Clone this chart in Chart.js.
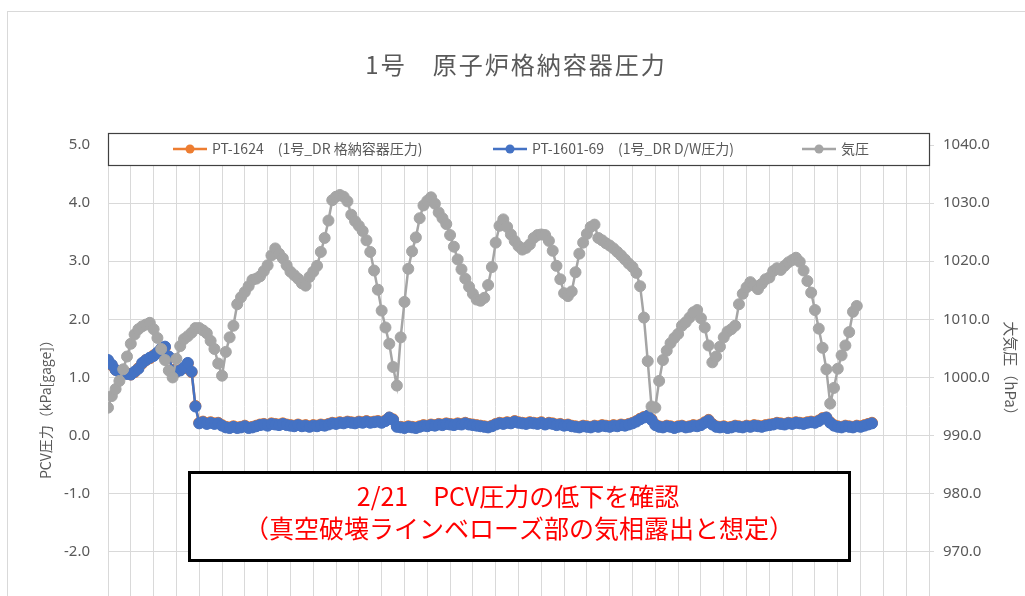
<!DOCTYPE html>
<html lang="ja">
<head>
<meta charset="utf-8">
<title>1号 原子炉格納容器圧力</title>
<script src="https://cdn.jsdelivr.net/npm/chart.js@4.4.1/dist/chart.umd.min.js"></script>
<style>
  html, body { margin: 0; padding: 0; background: #fff; overflow: hidden; }
  #wrap { width: 1025px; height: 700px; }
</style>
</head>
<body>
<div id="wrap"><canvas id="pcvChart" width="1025" height="700"></canvas></div>
<script>
// one reading every 4 hours, x axis in days
const days = Array.from({ length: 202 }, (_, i) => i / 6);

// PT-1601-69 (D/W pressure, kPa gage)
const pt160169 = [
  1.30, 1.22, 1.13, 1.09, 1.08, 1.06, 1.05, 1.10, 1.15, 1.25,
  1.30, 1.34, 1.37, 1.43, 1.50, 1.53, 1.36, 1.12, 1.10, 1.12,
  1.17, 1.25, 1.10, 0.50, 0.21, 0.23, 0.20, 0.22, 0.20, 0.21,
  0.17, 0.14, 0.13, 0.15, 0.13, 0.14, 0.16, 0.13, 0.14, 0.16,
  0.18, 0.19, 0.17, 0.20, 0.19, 0.18, 0.20, 0.18, 0.17, 0.16,
  0.18, 0.16, 0.17, 0.15, 0.17, 0.16, 0.18, 0.17, 0.19, 0.21,
  0.20, 0.22, 0.21, 0.23, 0.22, 0.21, 0.23, 0.22, 0.24, 0.22,
  0.23, 0.24, 0.22, 0.25, 0.31, 0.27, 0.15, 0.14, 0.13, 0.15,
  0.14, 0.13, 0.15, 0.17, 0.16, 0.18, 0.17, 0.19, 0.18, 0.20,
  0.19, 0.18, 0.20, 0.19, 0.21, 0.19, 0.18, 0.17, 0.16, 0.15,
  0.14, 0.16, 0.19, 0.21, 0.20, 0.22, 0.21, 0.24, 0.22, 0.21,
  0.20, 0.22, 0.21, 0.20, 0.22, 0.19, 0.21, 0.20, 0.18, 0.19,
  0.17, 0.18, 0.16, 0.15, 0.14, 0.16, 0.15, 0.14, 0.16, 0.15,
  0.17, 0.16, 0.15, 0.17, 0.16, 0.18, 0.17, 0.19, 0.21, 0.24,
  0.28, 0.31, 0.34, 0.27, 0.18, 0.15, 0.14, 0.16, 0.15, 0.13,
  0.15, 0.16, 0.14, 0.15, 0.17, 0.16, 0.18, 0.22, 0.26, 0.19,
  0.15, 0.14, 0.15, 0.13, 0.14, 0.16, 0.15, 0.14, 0.16, 0.15,
  0.17, 0.16, 0.15, 0.17, 0.18, 0.19, 0.21, 0.20, 0.19, 0.21,
  0.20, 0.22, 0.21, 0.20, 0.22, 0.23, 0.22, 0.25, 0.29, 0.31,
  0.22, 0.17, 0.15, 0.14, 0.16, 0.15, 0.14, 0.16, 0.15, 0.17,
  0.19, 0.21
];

// PT-1624 (格納容器圧力, kPa gage) - almost hidden under PT-1601-69
const pt1624 = [
  1.29, 1.21, 1.13, 1.10, 1.08, 1.07, 1.05, 1.09, 1.16, 1.24,
  1.30, 1.33, 1.38, 1.42, 1.49, 1.52, 1.35, 1.13, 1.10, 1.13,
  1.16, 1.24, 1.09, 0.51, 0.22, 0.24, 0.21, 0.23, 0.21, 0.22,
  0.18, 0.15, 0.14, 0.16, 0.14, 0.15, 0.17, 0.14, 0.15, 0.17,
  0.19, 0.20, 0.18, 0.21, 0.20, 0.19, 0.21, 0.19, 0.18, 0.17,
  0.19, 0.17, 0.18, 0.16, 0.18, 0.17, 0.19, 0.18, 0.20, 0.22,
  0.21, 0.23, 0.22, 0.24, 0.23, 0.22, 0.24, 0.23, 0.25, 0.23,
  0.24, 0.25, 0.23, 0.26, 0.31, 0.28, 0.16, 0.15, 0.14, 0.16,
  0.15, 0.14, 0.16, 0.18, 0.17, 0.19, 0.18, 0.20, 0.19, 0.21,
  0.20, 0.19, 0.21, 0.20, 0.22, 0.20, 0.19, 0.18, 0.17, 0.16,
  0.15, 0.17, 0.20, 0.22, 0.21, 0.23, 0.22, 0.25, 0.23, 0.22,
  0.21, 0.23, 0.22, 0.21, 0.23, 0.20, 0.22, 0.21, 0.19, 0.20,
  0.18, 0.19, 0.17, 0.16, 0.15, 0.17, 0.16, 0.15, 0.17, 0.16,
  0.18, 0.17, 0.16, 0.18, 0.17, 0.19, 0.18, 0.20, 0.22, 0.25,
  0.29, 0.32, 0.34, 0.28, 0.19, 0.16, 0.15, 0.17, 0.16, 0.14,
  0.16, 0.17, 0.15, 0.16, 0.18, 0.17, 0.19, 0.23, 0.27, 0.20,
  0.16, 0.15, 0.16, 0.14, 0.15, 0.17, 0.16, 0.15, 0.17, 0.16,
  0.18, 0.17, 0.16, 0.18, 0.19, 0.20, 0.22, 0.21, 0.20, 0.22,
  0.21, 0.23, 0.22, 0.21, 0.23, 0.24, 0.23, 0.26, 0.30, 0.31,
  0.23, 0.18, 0.16, 0.15, 0.17, 0.16, 0.15, 0.17, 0.16, 0.18,
  0.20, 0.22
];

// 気圧 (hPa)
const atm = [
  994.8, 996.8, 998.0, 999.4, 1001.4, 1003.6, 1005.8, 1007.4, 1008.3, 1008.8,
  1009.1, 1009.4, 1008.3, 1006.8, 1004.9, 1003.0, 1001.2, 1000.0, 1003.2, 1005.4,
  1006.6, 1007.1, 1007.7, 1008.5, 1008.5, 1008.1, 1007.6, 1006.3, 1004.9, 1002.4,
  1000.3, 1004.4, 1006.9, 1008.9, 1012.6, 1013.8, 1014.7, 1015.7, 1016.8, 1017.0,
  1017.4, 1018.3, 1019.3, 1021.0, 1022.2, 1021.3, 1020.5, 1019.3, 1018.2, 1017.6,
  1017.0, 1016.2, 1015.8, 1017.3, 1018.2, 1019.2, 1021.6, 1024.0, 1027.0, 1030.5,
  1031.1, 1031.4, 1031.1, 1030.3, 1028.0, 1026.9, 1026.1, 1025.2, 1023.6, 1021.6,
  1018.4, 1015.1, 1011.5, 1008.6, 1005.8, 1001.8, 998.6, 1006.9, 1013.0, 1018.7,
  1021.7, 1024.1, 1027.4, 1029.6, 1030.4, 1031.0, 1029.9, 1028.4, 1027.4, 1026.4,
  1024.5, 1022.5, 1020.3, 1018.6, 1017.0, 1015.6, 1014.4, 1013.4, 1013.2, 1013.7,
  1015.9, 1019.0, 1023.2, 1026.1, 1027.2, 1025.9, 1024.6, 1023.5, 1022.6, 1022.0,
  1022.3, 1022.9, 1024.0, 1024.5, 1024.6, 1024.5, 1023.5, 1021.8, 1019.2, 1016.9,
  1014.5, 1014.0, 1014.8, 1018.1, 1021.3, 1023.2, 1024.7, 1025.9, 1026.3, 1024.0,
  1023.6, 1023.1, 1022.7, 1022.2, 1021.6, 1021.0, 1020.3, 1019.6, 1019.0, 1018.0,
  1015.7, 1010.3, 1002.8, 995.0, 994.8, 999.4, 1003.0, 1004.6, 1005.9, 1006.8,
  1007.5, 1008.9, 1009.5, 1010.3, 1011.2, 1011.6, 1010.2, 1008.6, 1005.5, 1002.6,
  1003.6, 1005.3, 1006.9, 1007.9, 1008.3, 1008.9, 1012.6, 1014.4, 1015.5, 1016.4,
  1015.8, 1015.2, 1016.1, 1016.9, 1017.2, 1018.3, 1018.8, 1018.5, 1019.2, 1019.8,
  1020.2, 1020.6, 1019.9, 1018.4, 1016.6, 1014.6, 1011.6, 1008.4, 1005.1, 1001.4,
  995.5, 998.2, 1001.5, 1003.8, 1005.5, 1007.8, 1011.3, 1012.3
];

const seriesNames = ["PT-1624　(1号_DR 格納容器圧力)", "PT-1601-69　(1号_DR D/W圧力)", "気圧"];
const seriesColors = ["#ed7d31", "#4472c4", "#a5a5a5"];
const noteLines = ["2/21　PCV圧力の低下を確認", "（真空破壊ラインベローズ部の気相露出と想定）"];

const textGray = "#595959";
const gridGray = "#d9d9d9";
const jpFont = '"Noto Sans CJK JP", "Noto Sans", sans-serif';

// title, legend box, axis titles and the red note are drawn by hand
const decor = {
  id: "decor",
  beforeDraw(chart) {
    const c = chart.ctx;
    c.save();
    c.fillStyle = "#fff";
    c.fillRect(0, 0, chart.width, chart.height);
    c.strokeStyle = gridGray;
    c.lineWidth = 1;
    c.strokeRect(7.5, 11.5, chart.width + 10, chart.height + 10);
    c.restore();
  },
  afterDraw(chart) {
    const c = chart.ctx;
    const area = chart.chartArea;
    c.save();

    // title
    c.fillStyle = textGray;
    c.font = "24px " + jpFont;
    c.letterSpacing = "2px";
    c.textAlign = "center";
    c.textBaseline = "middle";
    c.fillText("1号　原子炉格納容器圧力", 516, 65);
    c.letterSpacing = "0px";

    // legend box
    c.fillStyle = "#fff";
    c.fillRect(area.left, 133, area.right - area.left, 32);
    c.strokeStyle = "#404040";
    c.lineWidth = 1.2;
    c.strokeRect(area.left + 0.5, 133.5, area.right - area.left, 32);

    const legendX = [173, 493, 802];
    c.font = "14px " + jpFont;
    c.textAlign = "left";
    chart.data.datasets.forEach((ds, i) => {
      const x = legendX[i];
      const y = 149;
      c.strokeStyle = ds.borderColor;
      c.lineWidth = 2.5;
      c.beginPath();
      c.moveTo(x, y);
      c.lineTo(x + 34, y);
      c.stroke();
      c.fillStyle = ds.borderColor;
      c.beginPath();
      c.arc(x + 17, y, 4.5, 0, Math.PI * 2);
      c.fill();
      c.fillStyle = textGray;
      c.fillText(ds.label, x + 39, y);
    });

    // axis titles
    c.fillStyle = textGray;
    c.textAlign = "center";
    c.font = "14px " + jpFont;
    c.save();
    c.translate(46, 406);
    c.rotate(-Math.PI / 2);
    c.fillText("PCV圧力（kPa[gage]）", 0, 0);
    c.restore();
    c.font = "15px " + jpFont;
    c.save();
    c.translate(1011, 372);
    c.rotate(Math.PI / 2);
    c.fillText("大気圧（hPa）", 0, 0);
    c.restore();

    // note box
    c.fillStyle = "#fff";
    c.fillRect(189, 472, 660, 88);
    c.strokeStyle = "#000";
    c.lineWidth = 3;
    c.strokeRect(189.5, 472.5, 660, 88);
    c.fillStyle = "#ff0000";
    c.font = "25px " + jpFont;
    c.fillText(noteLines[0], 518, 496);
    c.fillText(noteLines[1], 519, 528);

    c.restore();
  }
};

const ctx = document.getElementById("pcvChart").getContext("2d");

function lineSet(i, values, axis, order) {
  return {
    label: seriesNames[i],
    data: values,
    yAxisID: axis,
    order: order,
    borderColor: seriesColors[i],
    backgroundColor: seriesColors[i],
    borderWidth: 2.5,
    pointRadius: 5.5,
    pointBorderWidth: 1,
    pointHoverRadius: 5.5,
    tension: 0,
  };
}

new Chart(ctx, {
  type: "line",
  data: {
    labels: days,
    datasets: [
      lineSet(0, pt1624, "y", 3),
      lineSet(1, pt160169, "y", 2),
      lineSet(2, atm, "y2", 1),
    ],
  },
  options: {
    responsive: false,
    animation: false,
    devicePixelRatio: 1,
    layout: { padding: { top: 145, bottom: 32, left: 0, right: 0 } },
    plugins: {
      legend: { display: false },
      title: { display: false },
      tooltip: { enabled: false },
    },
    scales: {
      x: {
        type: "linear",
        min: 0,
        max: 36,
        ticks: { display: false, stepSize: 1 },
        grid: { color: gridGray, drawTicks: false },
        border: { display: false },
        afterFit: (s) => { s.height = 0; },
      },
      y: {
        position: "left",
        min: -4,
        max: 5,
        ticks: {
          stepSize: 1,
          padding: 18,
          color: textGray,
          font: { family: '"Noto Sans", sans-serif', size: 15 },
          callback: (v) => v.toFixed(1),
        },
        grid: { color: gridGray, drawTicks: false },
        border: { display: false },
        afterFit: (s) => { s.width = 108; },
      },
      y2: {
        position: "right",
        min: 950,
        max: 1040,
        ticks: {
          stepSize: 10,
          padding: 9,
          color: textGray,
          font: { family: '"Noto Sans", sans-serif', size: 15 },
          callback: (v) => v.toFixed(1),
        },
        grid: { drawOnChartArea: false, color: gridGray, tickLength: 5 },
        border: { display: false },
        afterFit: (s) => { s.width = 96; },
      },
    },
  },
  plugins: [decor],
});
</script>
</body>
</html>
